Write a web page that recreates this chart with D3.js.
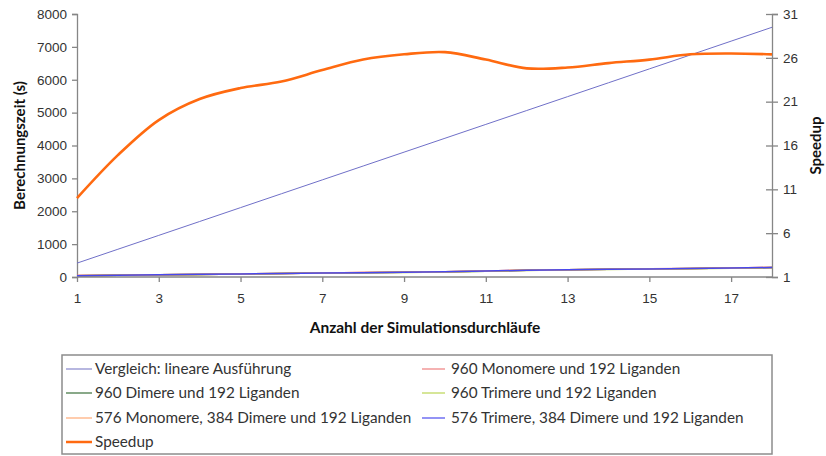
<!DOCTYPE html>
<html>
<head>
<meta charset="utf-8">
<script src="https://cdn.jsdelivr.net/npm/d3@7"></script>
<style>
  html, body { margin: 0; padding: 0; background: #fff; }
  svg { display: block; font-family: Lato, "Open Sans", sans-serif; }
</style>
</head>
<body>
<svg id="chart" width="826" height="456"></svg>
<script>
// Number of simulation runs
const runs = [1,2,3,4,5,6,7,8,9,10,11,12,13,14,15,16,17,18];
const xTickLabels = [1,3,5,7,9,11,13,15,17];
const leftTicks = [0,1000,2000,3000,4000,5000,6000,7000,8000];
const rightTicks = [1,6,11,16,21,26,31];

// Computation time (s)
const linear      = [422,844,1266,1688,2110,2532,2954,3376,3798,4220,4642,5064,5486,5908,6330,6752,7174,7596];
const mono960     = [44,54,70,79,92,110,122,134,146,160,182,206,222,234,250,258,274,292];
const dim960      = [40,56,68,77,94,106,121,130,143,156,178,203,218,232,244,257,270,287];
const tri960      = [41,53,66,76,90,105,118,128,140,155,176,200,219,231,243,254,268,285];
const mono576     = [43,55,70,80,95,109,124,138,146,161,183,205,221,235,247,259,275,291];
const tri576      = [39,57,71,81,93,108,119,132,145,158,181,204,224,236,246,261,272,289];
// Speedup relative to linear execution
const speedup     = [10.0,14.9,18.9,21.3,22.55,23.3,24.6,25.8,26.4,26.65,25.8,24.8,24.9,25.4,25.8,26.4,26.5,26.4];

const seriesNames = [
  "Vergleich: lineare Ausführung",
  "960 Monomere und 192 Liganden",
  "960 Dimere und 192 Liganden",
  "960 Trimere und 192 Liganden",
  "576 Monomere, 384 Dimere und 192 Liganden",
  "576 Trimere, 384 Dimere und 192 Liganden",
  "Speedup"
];
const seriesValues = [linear, mono960, dim960, tri960, mono576, tri576, speedup];
const seriesColors = ["#7070c8", "#e0406a", "#3d6b3d", "#b5d040", "#ffa060", "#4848f0", "#ff6a10"];
const seriesWidths = [1, 1.5, 1.5, 1.5, 1.5, 1.5, 2.6];
const legendColors = ["#9090d0", "#f08888", "#4a7a4a", "#c0d860", "#ffb080", "#5858f0", "#ff6a10"];

const svg = d3.select("#chart");
const plot = { left: 77, right: 772, top: 14, bottom: 277 };

const x = d3.scaleLinear().domain([1, 18]).range([plot.left, plot.right]);
const yL = d3.scaleLinear().domain([0, 8000]).range([plot.bottom, plot.top]);
const yR = d3.scaleLinear().domain([1, 31]).range([plot.bottom, plot.top]);

const axisColor = "#868686";
const textColor = "#333";

// Left axis
const gL = svg.append("g").attr("transform", `translate(${plot.left},0)`)
  .call(d3.axisLeft(yL).tickValues(leftTicks).tickSize(5).tickPadding(5).tickFormat(d3.format("d")));
// Right axis (ticks cross the axis line)
const gR = svg.append("g").attr("transform", `translate(${plot.right},0)`)
  .call(d3.axisRight(yR).tickValues(rightTicks).tickSize(6).tickPadding(5));
gR.selectAll(".tick line").attr("x1", -6);
// Bottom axis
const gB = svg.append("g").attr("transform", `translate(0,${plot.bottom})`)
  .call(d3.axisBottom(x).tickValues(xTickLabels).tickSize(5).tickPadding(11).tickFormat(d3.format("d")));

[gL, gR, gB].forEach(g => {
  g.select(".domain").attr("stroke", axisColor).attr("stroke-width", 1.3);
  g.selectAll(".tick line").attr("stroke", axisColor).attr("stroke-width", 1.3);
  g.selectAll(".tick text").attr("fill", textColor).style("font-size", "13.5px");
});
gB.select(".domain").attr("d", `M${plot.left},0H${plot.right}`);

// Series lines
const lineL = d3.line().x((d, i) => x(runs[i])).y(d => yL(d));
const lineR = d3.line().x((d, i) => x(runs[i])).y(d => yR(d)).curve(d3.curveCatmullRom.alpha(0.5));

seriesValues.forEach((vals, k) => {
  svg.append("path")
    .datum(vals)
    .attr("fill", "none")
    .attr("stroke", seriesColors[k])
    .attr("stroke-width", seriesWidths[k])
    .attr("stroke-linejoin", "round")
    .attr("d", k === 6 ? lineR : lineL);
});

// Axis titles
svg.append("text")
  .attr("transform", `translate(25,${(plot.top + plot.bottom) / 2}) rotate(-90)`)
  .attr("text-anchor", "middle")
  .attr("fill", "#111")
  .style("font-size", "15px").style("font-weight", "bold")
  .text("Berechnungszeit (s)");
svg.append("text")
  .attr("transform", `translate(821,${(plot.top + plot.bottom) / 2}) rotate(-90)`)
  .attr("text-anchor", "middle")
  .attr("fill", "#111")
  .style("font-size", "15px").style("font-weight", "bold")
  .text("Speedup");
svg.append("text")
  .attr("x", 425).attr("y", 333)
  .attr("text-anchor", "middle")
  .attr("fill", "#111")
  .style("font-size", "15.5px").style("font-weight", "bold")
  .text("Anzahl der Simulationsdurchläufe");

// Legend
const legend = svg.append("g");
legend.append("rect")
  .attr("x", 62).attr("y", 355).attr("width", 710).attr("height", 99)
  .attr("fill", "#fff").attr("stroke", "#8c8c8c").attr("stroke-width", 1.5);

const rowsY = [369, 393, 418, 442];
const cols = [{ x1: 66, x2: 92, tx: 95 }, { x1: 422, x2: 445, tx: 451 }];
const legendOrder = [[0, 1], [2, 3], [4, 5], [6]];
legendOrder.forEach((row, r) => {
  row.forEach((k, c) => {
    const col = cols[c];
    legend.append("line")
      .attr("x1", col.x1).attr("x2", col.x2)
      .attr("y1", rowsY[r]).attr("y2", rowsY[r])
      .attr("stroke", legendColors[k])
      .attr("stroke-width", k === 6 ? 2.5 : 1.3);
    legend.append("text")
      .attr("x", col.tx).attr("y", rowsY[r])
      .attr("dy", "0.35em")
      .attr("fill", textColor)
      .style("font-size", "15.3px")
      .text(seriesNames[k]);
  });
});
</script>
</body>
</html>
